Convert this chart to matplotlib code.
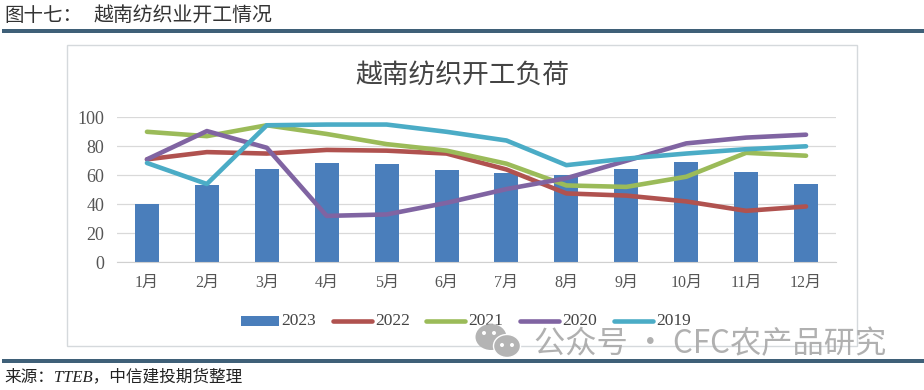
import matplotlib
matplotlib.use("Agg")
import matplotlib.pyplot as plt
from matplotlib.patches import Rectangle, Ellipse
from matplotlib.lines import Line2D

plt.rcParams['font.family'] = ['Liberation Serif', 'Noto Sans CJK SC', 'DejaVu Sans']

months = ["1月", "2月", "3月", "4月", "5月", "6月", "7月", "8月", "9月", "10月", "11月", "12月"]
y2023 = [40, 53.5, 64.5, 68.3, 67.5, 64, 61.5, 60, 64.5, 69.5, 62, 54]
y2022 = [71, 76, 75, 77.5, 77, 75, 64, 47.5, 46, 42, 35.5, 38.5]
y2021 = [90, 87, 94.5, 88.5, 81.5, 77, 68, 53, 52, 59, 75.5, 73.5]
y2020 = [71, 90.5, 79, 32, 33, 41, 50.5, 58, 70, 82, 86, 88]
y2019 = [68.5, 54, 94.5, 95, 95, 90, 84, 67, 71.5, 75, 78, 80]
line_series = [("2022", y2022, "#B0524F"), ("2021", y2021, "#9BBB59"),
               ("2020", y2020, "#8064A2"), ("2019", y2019, "#4BACC6")]

W, H = 924, 390
fig = plt.figure(figsize=(W / 100, H / 100), dpi=100, facecolor="white")


def fx(px):
    return px / W


def fy(py):
    return 1 - py / H


def frect(x0, y0, x1, y1, **kw):
    fig.add_artist(Rectangle((fx(x0), fy(y1)), fx(x1 - x0), (y1 - y0) / H,
                             transform=fig.transFigure, **kw))


# header / footer bars and chart frame
frect(2, 29, 924, 33, facecolor="#3F6078", edgecolor="none")
frect(2, 359, 924, 363, facecolor="#3F6078", edgecolor="none")
frect(66.5, 44.5, 857, 346, facecolor="white", edgecolor="#D5D9DC", linewidth=1)

fig.text(fx(4), fy(16), "图十七：", fontsize=14, color="#333333", va="center", ha="left")
fig.text(fx(93), fy(16), "越南纺织业开工情况", fontsize=14.3, color="#333333", va="center", ha="left")
fig.text(fx(4), fy(377), "来源：TTEB，中信建投期货整理", fontsize=12, color="#222222",
         va="center", ha="left", style="italic")
fig.text(fx(462), fy(77), "越南纺织开工负荷", fontsize=19.3, color="#444444",
         va="center", ha="center")

ax = fig.add_axes([fx(117), fy(262.3), fx(836 - 117), (262.3 - 117.3) / H])
ax.set_zorder(3)
ax.patch.set_alpha(0)
pos = list(range(len(months)))
ax.bar(pos, y2023, width=0.4, color="#4A7EBB", zorder=2)
for name, vals, col in line_series:
    ax.plot(pos, vals, color=col, lw=3.3, solid_capstyle="round",
            solid_joinstyle="round", zorder=3)
ax.set_xlim(-0.5, 11.5)
ax.set_ylim(0, 100)
ax.set_yticks(range(0, 101, 20))
ax.set_xticks(pos)
ax.set_xticklabels(months)
ax.grid(axis="y", color="#D9D9D9", lw=0.9, zorder=0)
ax.set_axisbelow(True)
ax.tick_params(length=0, colors="#555555")
ax.tick_params(axis="x", pad=9, labelsize=11.5)
ax.tick_params(axis="y", pad=9, labelsize=13)
for s in ["top", "right", "left"]:
    ax.spines[s].set_visible(False)
ax.spines["bottom"].set_color("#D0D0D0")

# legend
frect(240.5, 316, 279, 326, facecolor="#4A7EBB", edgecolor="none")
fig.text(fx(281), fy(321), "2023", fontsize=12.5, color="#444444", va="center", ha="left")
legend_x = [333, 426, 520, 614]
for (name, vals, col), lx in zip(line_series, legend_x):
    fig.add_artist(Line2D([fx(lx), fx(lx + 39)], [fy(321), fy(321)], color=col, lw=3.3,
                          solid_capstyle="round", transform=fig.transFigure))
    fig.text(fx(lx + 42), fy(321), name, fontsize=12.5, color="#444444", va="center", ha="left")

# watermark
icon = "#B4B4B4"
fig.add_artist(Ellipse((fx(491), fy(337)), 31 / W, 26 / H, facecolor=icon, edgecolor="none",
                       transform=fig.transFigure, zorder=5))
fig.add_artist(Ellipse((fx(507), fy(346)), 27 / W, 23 / H, facecolor=icon, edgecolor="white", lw=1,
                       transform=fig.transFigure, zorder=6))
for dx in (-5, 5):
    fig.add_artist(Ellipse((fx(507 + dx), fy(345)), 4 / W, 4 / H, facecolor="white",
                           edgecolor="none", transform=fig.transFigure, zorder=7))
    fig.add_artist(Ellipse((fx(489 + dx), fy(333)), 4 / W, 4 / H, facecolor="white",
                           edgecolor="none", transform=fig.transFigure, zorder=7))
fig.text(fx(534), fy(344), "公众号 · CFC农产品研究", fontsize=22.5, color="#A8A8A8", alpha=0.9,
         va="center", ha="left", family=["Noto Sans CJK SC", "DejaVu Sans"], zorder=8)

fig.savefig("out.png", dpi=100, facecolor="white")
